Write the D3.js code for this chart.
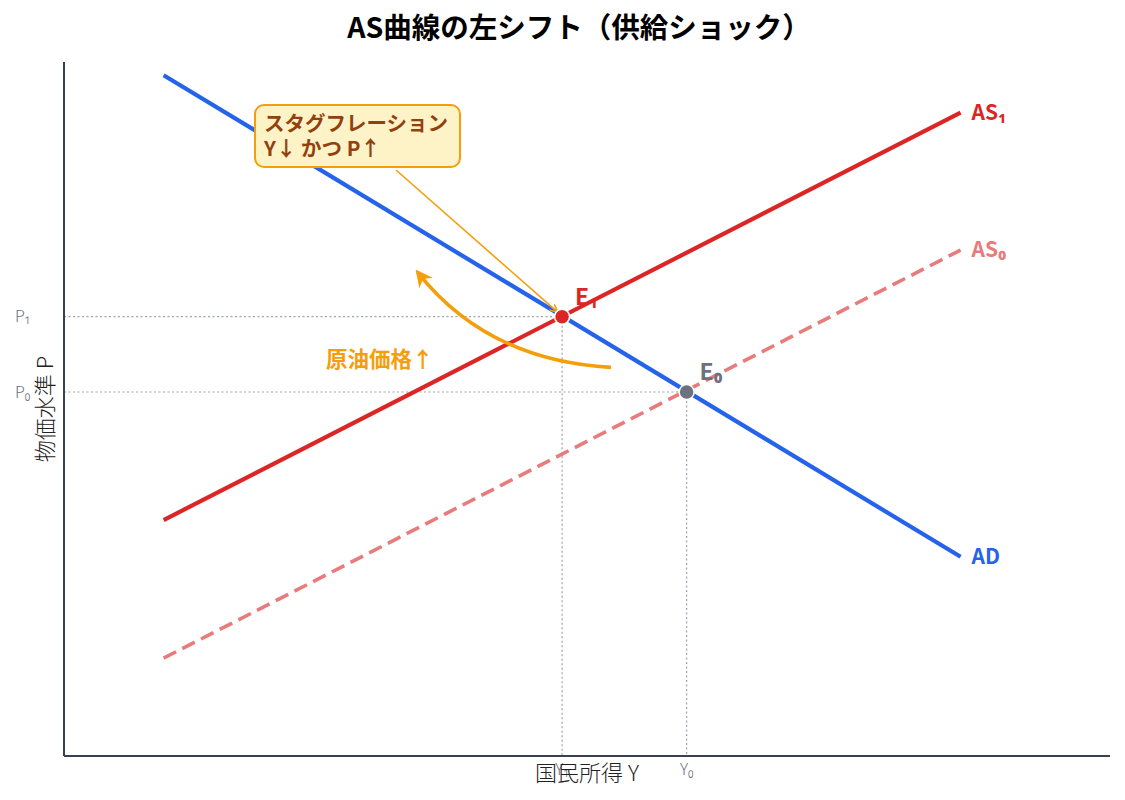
<!DOCTYPE html>
<html>
<head>
<meta charset="utf-8">
<script src="https://cdn.jsdelivr.net/npm/d3@7"></script>
<style>
  body { margin: 0; background: #fff; }
  text { font-family: "Noto Sans CJK JP", "Noto Sans", sans-serif; }
</style>
</head>
<body>
<div id="chart"></div>
<script>
// curve end points (x = national income, y = price level)
var lineX = [1, 9]
var adY = [9.81, 2.87]
var as1Y = [3.40, 9.27]
var as0Y = [1.41, 7.29]

// equilibria
var eqNames = ["E₁", "E₀"]
var eqX = [5.0, 6.25]
var eqY = [6.33, 5.245]

// tick labels
var yTickVals = [6.33, 5.245]
var yTickLabels = ["P₁", "P₀"]
var xTickVals = [5.0, 6.25]
var xTickLabels = ["Y₁", "Y₀"]

var width = 1125, height = 800
var margin = {left: 64, right: 15, top: 62, bottom: 44}

var svg = d3.select("#chart").append("svg")
    .attr("width", width)
    .attr("height", height)

var x = d3.scaleLinear().domain([0, 10.5]).range([margin.left, width - margin.right])
var y = d3.scaleLinear().domain([0, 10]).range([height - margin.bottom, margin.top])

var blue = "#2563EB", red = "#DC2626", lightRed = "#E87B7B", orange = "#F59E0B", grey = "#6B7280"

// dotted guides
eqX.forEach(function(ex, i) {
  svg.append("line")
    .attr("x1", x(0)).attr("x2", x(ex))
    .attr("y1", y(eqY[i])).attr("y2", y(eqY[i]))
    .attr("stroke", "#9CA3AF").attr("stroke-width", 1.2)
    .attr("stroke-dasharray", "2,2.5")
  svg.append("line")
    .attr("x1", x(ex)).attr("x2", x(ex))
    .attr("y1", y(eqY[i])).attr("y2", y(0))
    .attr("stroke", "#9CA3AF").attr("stroke-width", 1.2)
    .attr("stroke-dasharray", "2,2.5")
})

var line = d3.line()
  .x(function(d){ return x(d[0]) })
  .y(function(d){ return y(d[1]) })

function pts(ys) { return lineX.map(function(v, i){ return [v, ys[i]] }) }

svg.append("path").attr("d", line(pts(as0Y)))
  .attr("fill", "none").attr("stroke", lightRed).attr("stroke-width", 3.6)
  .attr("stroke-dasharray", "14,7")
svg.append("path").attr("d", line(pts(adY)))
  .attr("fill", "none").attr("stroke", blue).attr("stroke-width", 4.2)
svg.append("path").attr("d", line(pts(as1Y)))
  .attr("fill", "none").attr("stroke", red).attr("stroke-width", 4.2)

// curve labels
var curveLabels = [
  {t: "AS₁", yv: as1Y[1], c: red},
  {t: "AS₀", yv: as0Y[1], c: lightRed},
  {t: "AD", yv: adY[1], c: blue}
]
curveLabels.forEach(function(d) {
  svg.append("text")
    .attr("x", x(lineX[1]) + 11)
    .attr("y", y(d.yv))
    .attr("dy", "0.35em")
    .attr("fill", d.c)
    .style("font-size", "21px")
    .style("font-weight", "bold")
    .text(d.t)
})

// axes (spines)
svg.append("line").attr("x1", x(0)).attr("x2", x(0)).attr("y1", y(10)).attr("y2", y(0))
  .attr("stroke", "#374151").attr("stroke-width", 2)
svg.append("line").attr("x1", x(0)).attr("x2", x(10.5)).attr("y1", y(0)).attr("y2", y(0))
  .attr("stroke", "#374151").attr("stroke-width", 2)

// tick labels
yTickVals.forEach(function(v, i) {
  svg.append("text")
    .attr("x", 15).attr("y", y(v)).attr("dy", "0.35em")
    .attr("fill", grey).style("font-size", "16px").style("font-weight", 300)
    .text(yTickLabels[i])
})
xTickVals.forEach(function(v, i) {
  svg.append("text")
    .attr("x", x(v)).attr("y", y(0) + 19)
    .attr("text-anchor", "middle")
    .attr("fill", grey).style("font-size", "16px").style("font-weight", 300)
    .text(xTickLabels[i])
})

// axis titles
svg.append("text")
  .attr("x", 587).attr("y", 781)
  .attr("text-anchor", "middle")
  .attr("fill", "#222").style("font-size", "22px").style("font-weight", 300)
  .text("国民所得 Y")
svg.append("text")
  .attr("transform", "translate(53," + y(5.0) + ") rotate(-90)")
  .attr("text-anchor", "middle")
  .attr("fill", "#222").style("font-size", "22px").style("font-weight", 300)
  .text("物価水準 P")

// title
svg.append("text")
  .attr("x", 579).attr("y", 38)
  .attr("text-anchor", "middle")
  .attr("fill", "#000").style("font-size", "28.5px").style("font-weight", "bold")
  .text("AS曲線の左シフト（供給ショック）")

// arrow markers
var defs = svg.append("defs")
defs.append("marker").attr("id", "headThin")
  .attr("viewBox", "0 0 10 10").attr("refX", 9).attr("refY", 5)
  .attr("markerWidth", 8).attr("markerHeight", 8).attr("markerUnits", "userSpaceOnUse")
  .attr("orient", "auto")
  .append("path").attr("d", "M0,0 L10,5 L0,10").attr("fill", "none")
  .attr("stroke", orange).attr("stroke-width", 2)
defs.append("marker").attr("id", "headBig")
  .attr("viewBox", "0 0 10 10").attr("refX", 8).attr("refY", 5)
  .attr("markerWidth", 17).attr("markerHeight", 17).attr("markerUnits", "userSpaceOnUse")
  .attr("orient", "auto")
  .append("path").attr("d", "M0,0 L10,5 L0,10 L3,5 Z").attr("fill", orange)

// supply shock curved arrow
var cs = [x(5.49), y(5.6)], ce = [x(3.55), y(6.97)], cc = [x(4.25), y(5.7)]
svg.append("path")
  .attr("d", "M" + cs + " Q" + cc + " " + ce)
  .attr("fill", "none").attr("stroke", orange).attr("stroke-width", 3.6)
  .attr("marker-end", "url(#headBig)")
svg.append("text")
  .attr("x", 326).attr("y", 367)
  .attr("fill", orange).style("font-size", "21.5px").style("font-weight", "bold")
  .text("原油価格↑")

// annotation arrow to E1
svg.append("line")
  .attr("x1", 396).attr("y1", 170)
  .attr("x2", x(eqX[0]) - 5).attr("y2", y(eqY[0]) - 5)
  .attr("stroke", orange).attr("stroke-width", 1.6)
  .attr("marker-end", "url(#headThin)")

// annotation box
svg.append("rect")
  .attr("x", 255).attr("y", 105).attr("width", 205).attr("height", 62)
  .attr("rx", 9)
  .attr("fill", "#FEF3C7").attr("stroke", orange).attr("stroke-width", 2)
var box = svg.append("text").attr("fill", "#92400E")
  .style("font-size", "20.5px").style("font-weight", "bold")
box.append("tspan").attr("x", 264).attr("y", 131).text("スタグフレーション")
box.append("tspan").attr("x", 264).attr("y", 156).text("Y↓ かつ P↑")

// equilibrium points
var eqColors = [red, grey]
eqX.forEach(function(ex, i) {
  svg.append("circle")
    .attr("cx", x(ex)).attr("cy", y(eqY[i])).attr("r", 7.5)
    .attr("fill", eqColors[i]).attr("stroke", "#fff").attr("stroke-width", 1.5)
  svg.append("text")
    .attr("x", x(ex) + 13).attr("y", y(eqY[i]) - 12)
    .attr("fill", eqColors[i])
    .style("font-size", "23px").style("font-weight", "bold")
    .text(eqNames[i])
})
</script>
</body>
</html>
